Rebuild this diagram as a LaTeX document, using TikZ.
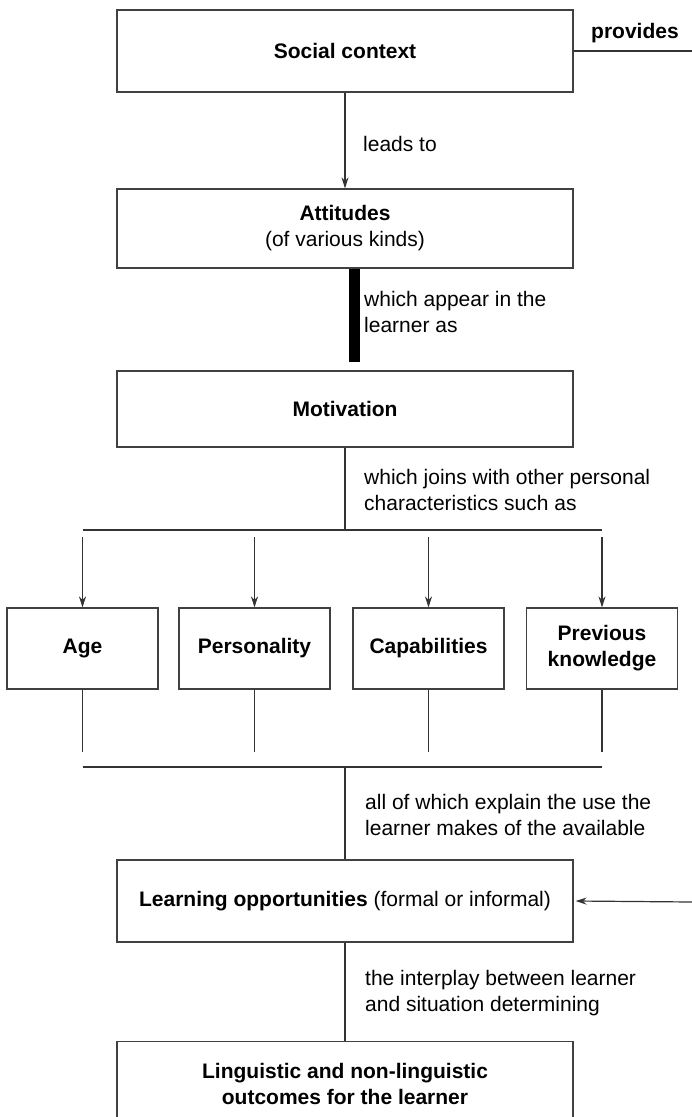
\documentclass[tikz,border=0pt]{standalone}
\usepackage{fontspec}
\setmainfont{Liberation Sans}
\usetikzlibrary{arrows.meta}
\newcommand{\diagfont}{\fontsize{21}{26}\selectfont}
\tikzset{>={Stealth[length=11pt,width=7pt]}}
\tikzset{
  box/.style = {draw=black!75, line width=1.2pt, inner sep=0pt, align=center, font=\diagfont\bfseries},
  wide/.style = {box, minimum width=456pt, minimum height=80pt},
  small/.style = {box, minimum width=151pt, minimum height=81pt},
  link/.style = {black!80, line width=1.2pt},
  remark/.style = {anchor=west, align=left, inner sep=0pt, font=\diagfont}
}

\begin{document}
\begin{tikzpicture}[x=1pt,y=-1pt]
  \useasboundingbox (0,0) rectangle (692,1117);
  \clip (0,0) rectangle (692,1117);
  % main column
  \node[wide, minimum height=82pt] (social) at (345,51) {Social context};
  \node[wide, minimum height=79pt] (attitudes) at (345,228.5) {Attitudes\\\mdseries(of various kinds)};
  \node[wide, minimum height=76pt] (motivation) at (345,409) {Motivation};
  \node[small] (age) at (82.5,648.5) {Age};
  \node[small] (personality) at (254.5,648.5) {Personality};
  \node[small] (capabilities) at (428.5,648.5) {Capabilities};
  \node[small] (previous) at (602,648.5) {Previous\\knowledge};
  \node[wide, minimum height=82pt] (opportunities) at (345,901) {Learning opportunities \mdseries(formal or informal)};
  \node[wide, minimum height=85pt, anchor=north] (outcomes) at (345,1041) {Linguistic and non-linguistic\\outcomes for the learner};
  % labels on the links
  \node[font=\diagfont\bfseries, inner sep=0pt] (provides) at (635,33) {provides};
  \node[remark] (leadsto) at (363,144) {leads to};
  \node[remark] (appear) at (364,311.5) {which appear in the\\learner as};
  \node[remark] (joins) at (364,489.5) {which joins with other personal\\characteristics such as};
  \node[remark] (explain) at (365,815) {all of which explain the use the\\learner makes of the available};
  \node[remark] (interplay) at (365,993.5) {the interplay between learner\\and situation determining};
  % links
  \draw[link,->] (social.south) -- (attitudes.north);
  \draw[line width=11pt] ([xshift=9.5pt]attitudes.south) -- ([xshift=9.5pt,yshift=8pt]motivation.north);
  \coordinate (split) at (345,530);
  \draw[link] (motivation.south) -- (split);
  \draw[link] (age |- split) -- (previous |- split);
  \foreach \b in {age,personality,capabilities,previous}
    \draw[link,->] ([yshift=-7pt]\b |- split) -- (\b.north);
  \coordinate (merge) at (345,767);
  \foreach \b in {age,personality,capabilities,previous}
    \draw[link] (\b.south) -- ([yshift=15pt]\b |- merge);
  \draw[link] (age |- merge) -- (previous |- merge);
  \draw[link] (merge) -- (opportunities.north);
  \draw[link] (opportunities.south) -- (outcomes.north);
  % loop on the right, cut by the page edge
  \coordinate (out) at (692,51);
  \coordinate (back) at (692,902);
  \draw[link] (social.east) -- (out);
  \draw[link,->] (back) -- ([xshift=2pt]opportunities.east);
\end{tikzpicture}
\end{document}
